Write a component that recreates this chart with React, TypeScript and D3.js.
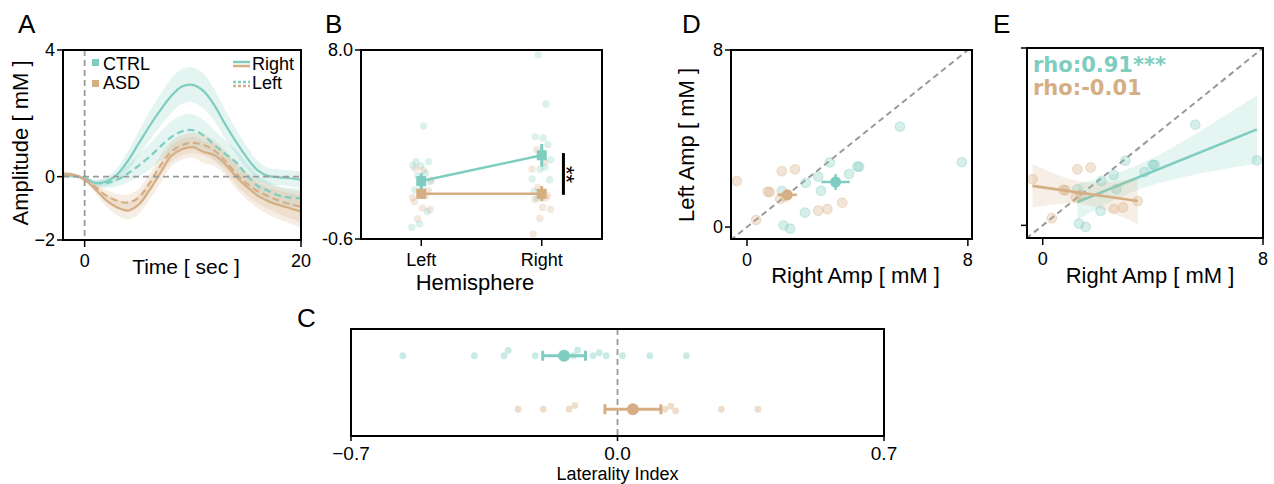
import React from 'react';
import * as d3 from 'd3';

const CTRL = '#7ECDC0';
const ASD = '#D6AE84';
const FONT = 'Liberation Sans, Arial, Helvetica, sans-serif';
const BOLDFONT = 'DejaVu Sans, Liberation Sans, Arial, sans-serif';

// Panel A: group-average time courses
const timeSec = [-2, -1, 0, 1, 2, 3, 4, 5, 6, 7, 8, 9, 10, 11, 12, 13, 14, 15, 16, 17, 18, 19, 20];
const ctrlRightMean = [0.05, 0.03, -0.05, -0.2, -0.15, 0.07, 0.5, 1.05, 1.6, 2.1, 2.55, 2.85, 2.9, 2.7, 2.25, 1.65, 1.1, 0.6, 0.2, 0.02, -0.02, -0.05, -0.1];
const ctrlRightSem = [0.08, 0.06, 0.05, 0.1, 0.15, 0.2, 0.3, 0.38, 0.45, 0.5, 0.55, 0.55, 0.55, 0.55, 0.5, 0.45, 0.4, 0.35, 0.3, 0.25, 0.25, 0.25, 0.25];
const ctrlLeftMean = [0.05, 0.03, -0.05, -0.2, -0.2, -0.1, 0.1, 0.35, 0.63, 0.95, 1.25, 1.43, 1.47, 1.3, 1.0, 0.72, 0.45, 0.05, -0.3, -0.45, -0.6, -0.66, -0.68];
const ctrlLeftSem = [0.08, 0.06, 0.05, 0.1, 0.15, 0.2, 0.28, 0.35, 0.4, 0.45, 0.5, 0.5, 0.5, 0.48, 0.45, 0.42, 0.4, 0.38, 0.35, 0.3, 0.3, 0.3, 0.3];
const asdRightMean = [0.08, 0.05, -0.1, -0.4, -0.75, -0.97, -1.07, -0.88, -0.42, 0.12, 0.65, 0.87, 0.93, 0.78, 0.68, 0.4, 0.0, -0.32, -0.6, -0.78, -0.9, -1.0, -1.1];
const asdRightSem = [0.08, 0.06, 0.05, 0.12, 0.2, 0.25, 0.28, 0.3, 0.32, 0.33, 0.33, 0.33, 0.33, 0.35, 0.35, 0.35, 0.38, 0.4, 0.4, 0.42, 0.45, 0.48, 0.5];
const asdLeftMean = [0.08, 0.05, -0.08, -0.32, -0.6, -0.76, -0.82, -0.66, -0.21, 0.35, 0.78, 1.0, 1.07, 1.0, 0.82, 0.5, 0.1, -0.22, -0.46, -0.62, -0.76, -0.87, -0.95];
const asdLeftSem = [0.08, 0.06, 0.05, 0.12, 0.18, 0.22, 0.25, 0.28, 0.3, 0.32, 0.32, 0.32, 0.32, 0.33, 0.33, 0.33, 0.35, 0.36, 0.38, 0.4, 0.42, 0.45, 0.48];

// Panels B, D, E: per-subject amplitudes [mM]
const ctrlRightAmp = [5.54, 7.78, 3.0, 4.0, 4.06, 3.7, 2.58, 2.13, 2.68, 1.26, 2.1, 1.32, 1.56];
const ctrlLeftAmp = [4.54, 2.93, 2.92, 2.73, 2.73, 2.4, 2.28, 2.0, 1.64, 1.63, 0.65, 0.08, -0.07];
const asdRightAmp = [-0.37, 1.26, 1.74, 0.75, 0.83, 1.2, 1.38, 0.33, 2.58, 2.91, 3.45];
const asdLeftAmp = [2.08, 2.53, 2.61, 1.6, 1.58, 1.28, 1.37, 0.32, 0.74, 0.81, 1.1];

// Panel C: laterality index
const ctrlLI = [-0.564, -0.376, -0.298, -0.287, -0.216, -0.115, -0.105, -0.064, -0.048, -0.03, 0.013, 0.085, 0.181];
const asdLI = [-0.261, -0.195, -0.127, -0.112, 0.124, 0.14, 0.153, 0.273, 0.369];

const hemiLabels = ['Left', 'Right'];
const rhoLabels = ['rho:0.91***', 'rho:-0.01'];

const mean = (a: number[]) => d3.mean(a) as number;
const sem = (a: number[]) => (d3.deviation(a) as number) / Math.sqrt(a.length);

function Frame({ x0, x1, y0, y1 }: any) {
  return <rect x={x0} y={y0} width={x1 - x0} height={y1 - y0} fill="none" stroke="#000" strokeWidth={2} />;
}

function XTicks({ scale, ticks, labels, y, len = 7, lab = 27, size = 18 }: any) {
  return (
    <g>
      {ticks.map((t: number, i: number) => (
        <g key={i}>
          <line x1={scale(t)} x2={scale(t)} y1={y} y2={y + len} stroke="#000" strokeWidth={1.5} />
          {labels && (
            <text x={scale(t)} y={y + lab} textAnchor="middle" fontSize={size} fontFamily={FONT}>
              {labels[i]}
            </text>
          )}
        </g>
      ))}
    </g>
  );
}

function YTicks({ scale, ticks, labels, x, len = 6, size = 18 }: any) {
  return (
    <g>
      {ticks.map((t: number, i: number) => (
        <g key={i}>
          <line x1={x - len} x2={x} y1={scale(t)} y2={scale(t)} stroke="#000" strokeWidth={1.5} />
          {labels && (
            <text x={x - 8} y={scale(t)} dy="0.35em" textAnchor="end" fontSize={size} fontFamily={FONT}>
              {labels[i]}
            </text>
          )}
        </g>
      ))}
    </g>
  );
}

function swarm(xs: number[], d: number) {
  const placed: { x: number; dy: number }[] = [];
  const sorted = [...xs].sort((a, b) => a - b);
  for (const x of sorted) {
    const near = placed.filter((p) => Math.abs(p.x - x) < d);
    const cands = [0];
    for (const p of near) {
      const h = Math.sqrt(d * d - (p.x - x) ** 2);
      cands.push(p.dy - h, p.dy + h);
    }
    cands.sort((a, b) => Math.abs(a) - Math.abs(b) || a - b);
    const ok = cands.find((c) => near.every((p) => (p.x - x) ** 2 + (p.dy - c) ** 2 >= d * d - 1e-6));
    placed.push({ x, dy: ok ?? 0 });
  }
  return placed;
}

function regression(xs: number[], ys: number[]) {
  const n = xs.length;
  const mx = mean(xs);
  const my = mean(ys);
  const sxx = d3.sum(xs, (x) => (x - mx) ** 2);
  const sxy = d3.sum(xs, (x, i) => (x - mx) * (ys[i] - my));
  const b = sxy / sxx;
  const a = my - b * mx;
  const ssr = d3.sum(xs, (x, i) => (ys[i] - (a + b * x)) ** 2);
  const s = Math.sqrt(ssr / (n - 2));
  const t = n - 2 === 11 ? 2.201 : n - 2 === 9 ? 2.262 : 2.2;
  const lo = d3.min(xs) as number;
  const hi = d3.max(xs) as number;
  const grid = d3.range(0, 41).map((k) => lo + ((hi - lo) * k) / 40);
  return grid.map((x) => {
    const yh = a + b * x;
    const se = s * Math.sqrt(1 / n + (x - mx) ** 2 / sxx);
    return { x, y: yh, lo: yh - t * se, hi: yh + t * se };
  });
}

export default function App() {
  // ---------- Panel A ----------
  const A = { x0: 63, x1: 301, y0: 50, y1: 240 };
  const ax = d3.scaleLinear().domain([-2, 20]).range([A.x0, A.x1]);
  const ay = d3.scaleLinear().domain([-2, 4]).range([A.y1, A.y0]);
  const line = (m: number[]) =>
    d3.line<number>().x((_, i) => ax(timeSec[i])).y((v) => ay(v)).curve(d3.curveCatmullRom)(m) as string;
  const band = (m: number[], s: number[]) =>
    d3
      .area<number>()
      .x((_, i) => ax(timeSec[i]))
      .y0((v, i) => ay(v - s[i]))
      .y1((v, i) => ay(v + s[i]))
      .curve(d3.curveCatmullRom)(m) as string;
  const seriesA = [
    { m: ctrlRightMean, s: ctrlRightSem, c: CTRL, dash: undefined },
    { m: ctrlLeftMean, s: ctrlLeftSem, c: CTRL, dash: '7 4' },
    { m: asdRightMean, s: asdRightSem, c: ASD, dash: undefined },
    { m: asdLeftMean, s: asdLeftSem, c: ASD, dash: '7 4' },
  ];

  // ---------- Panel B ----------
  const B = { x0: 361, x1: 602, y0: 50, y1: 239 };
  const bx = d3.scaleLinear().domain([-0.5, 1.5]).range([B.x0, B.x1]);
  const by = d3.scaleLinear().domain([-0.6, 8.0]).range([B.y1, B.y0]);
  const jit = (i: number, k: number) => ((((i + 1) * 0.6180339 + k * 0.37) % 1) - 0.5) * 0.17;
  const groupsB = [
    { c: CTRL, left: ctrlLeftAmp, right: ctrlRightAmp, k: 0 },
    { c: ASD, left: asdLeftAmp, right: asdRightAmp, k: 1 },
  ];

  // ---------- Panel C ----------
  const C = { x0: 351, x1: 884, y0: 329, y1: 436 };
  const cx = d3.scaleLinear().domain([-0.7, 0.7]).range([C.x0, C.x1]);
  const cy = d3.scaleLinear().domain([-0.5, 1.5]).range([C.y0, C.y1]);
  const groupsC = [
    { c: CTRL, v: ctrlLI, row: 0 },
    { c: ASD, v: asdLI, row: 1 },
  ];

  // ---------- Panel D ----------
  const D = { x0: 731, x1: 972, y0: 50, y1: 239 };
  const dx = d3.scaleLinear().domain([-0.58, 8.15]).range([D.x0, D.x1]);
  const dy = d3.scaleLinear().domain([-0.54, 8.0]).range([D.y1, D.y0]);

  // ---------- Panel E ----------
  const E = { x0: 1027, x1: 1263, y0: 48, y1: 238 };
  const ex = d3.scaleLinear().domain([-0.57, 8.0]).range([E.x0, E.x1]);
  const ey = d3.scaleLinear().domain([-0.57, 8.0]).range([E.y1, E.y0]);

  const scatterGroups = [
    { c: CTRL, xs: ctrlRightAmp, ys: ctrlLeftAmp },
    { c: ASD, xs: asdRightAmp, ys: asdLeftAmp },
  ];

  const letter = (t: string, x: number, y: number) => (
    <text x={x} y={y} fontSize={26} fontFamily={FONT}>
      {t}
    </text>
  );

  return (
    <svg width={1274} height={484} style={{ position: 'absolute', left: 0, top: 0, background: '#fff' }}>
      <defs>
        <clipPath id="clipA">
          <rect x={A.x0} y={A.y0} width={A.x1 - A.x0} height={A.y1 - A.y0} />
        </clipPath>
        <clipPath id="clipD">
          <rect x={D.x0} y={D.y0} width={D.x1 - D.x0} height={D.y1 - D.y0} />
        </clipPath>
        <clipPath id="clipE">
          <rect x={E.x0} y={E.y0} width={E.x1 - E.x0} height={E.y1 - E.y0} />
        </clipPath>
      </defs>
      <rect x={0} y={0} width={1274} height={484} fill="#fff" />

      {/* ================= A ================= */}
      {letter('A', 18, 33)}
      <g clipPath="url(#clipA)">
        {seriesA.map((s, i) => (
          <path key={'b' + i} d={band(s.m, s.s)} fill={s.c} fillOpacity={0.22} stroke="none" />
        ))}
        {seriesA.map((s, i) => (
          <path key={'l' + i} d={line(s.m)} fill="none" stroke={s.c} strokeWidth={2.2} strokeDasharray={s.dash} />
        ))}
        <line x1={ax(0)} x2={ax(0)} y1={A.y0} y2={A.y1} stroke="#9a9a9a" strokeWidth={1.8} strokeDasharray="6 4" />
        <line x1={A.x0} x2={A.x1} y1={ay(0)} y2={ay(0)} stroke="#9a9a9a" strokeWidth={1.8} strokeDasharray="6 4" />
      </g>
      <Frame {...A} />
      <XTicks scale={ax} ticks={[0, 20]} labels={['0', '20']} y={A.y1} />
      <YTicks scale={ay} ticks={[-2, 0, 4]} labels={['\u22122', '0', '4']} x={A.x0} />
      <text x={(A.x0 + A.x1) / 2 + 4} y={274} textAnchor="middle" fontSize={21} fontFamily={FONT}>
        Time [ sec ]
      </text>
      <text transform={`translate(28,${(A.y0 + A.y1) / 2 - 2}) rotate(-90)`} textAnchor="middle" fontSize={22} fontFamily={FONT}>
        Amplitude [ mM ]
      </text>
      {/* legend */}
      <rect x={92} y={59} width={7} height={7} fill={CTRL} />
      <text x={103} y={70} fontSize={18} fontFamily={FONT}>CTRL</text>
      <rect x={92} y={80} width={7} height={7} fill={ASD} />
      <text x={103} y={89} fontSize={18} fontFamily={FONT}>ASD</text>
      <line x1={233} x2={250} y1={62} y2={62} stroke={CTRL} strokeWidth={2.5} />
      <line x1={233} x2={250} y1={66} y2={66} stroke={ASD} strokeWidth={2.5} />
      <text x={252} y={70} fontSize={18} fontFamily={FONT}>Right</text>
      <line x1={233} x2={250} y1={82} y2={82} stroke={CTRL} strokeWidth={2.5} strokeDasharray="3 2" />
      <line x1={233} x2={250} y1={86} y2={86} stroke={ASD} strokeWidth={2.5} strokeDasharray="3 2" />
      <text x={252} y={89} fontSize={18} fontFamily={FONT}>Left</text>

      {/* ================= B ================= */}
      {letter('B', 325, 33)}
      {groupsB.map((g) => (
        <g key={'bp' + g.k}>
          {g.left.map((v, i) => (
            <circle key={'l' + i} cx={bx(0 + jit(i, g.k))} cy={by(v)} r={3.7} fill={g.c} fillOpacity={0.28} />
          ))}
          {g.right.map((v, i) => (
            <circle key={'r' + i} cx={bx(1 + jit(i + 5, g.k))} cy={by(v)} r={3.7} fill={g.c} fillOpacity={0.28} />
          ))}
        </g>
      ))}
      {groupsB.map((g) => {
        const ml = mean(g.left);
        const mr = mean(g.right);
        const sl = sem(g.left);
        const sr = sem(g.right);
        return (
          <g key={'bm' + g.k}>
            <line x1={bx(0)} x2={bx(1)} y1={by(ml)} y2={by(mr)} stroke={g.c} strokeWidth={2.5} />
            <line x1={bx(0)} x2={bx(0)} y1={by(ml - sl)} y2={by(ml + sl)} stroke={g.c} strokeWidth={3} />
            <line x1={bx(1)} x2={bx(1)} y1={by(mr - sr)} y2={by(mr + sr)} stroke={g.c} strokeWidth={3} />
            <rect x={bx(0) - 5} y={by(ml) - 5} width={10} height={10} fill={g.c} />
            <rect x={bx(1) - 5} y={by(mr) - 5} width={10} height={10} fill={g.c} />
          </g>
        );
      })}
      <line x1={bx(1.18)} x2={bx(1.18)} y1={by(mean(ctrlRightAmp) + 0.1)} y2={by(mean(asdRightAmp) - 0.05)} stroke="#000" strokeWidth={3} />
      <text transform={`translate(559,${(by(mean(ctrlRightAmp)) + by(mean(asdRightAmp))) / 2}) rotate(90)`} textAnchor="middle" fontSize={22} fontFamily={FONT}>
        **
      </text>
      <Frame {...B} />
      <XTicks scale={bx} ticks={[0, 1]} labels={hemiLabels} y={B.y1} />
      <YTicks scale={by} ticks={[-0.6, 8.0]} labels={['-0.6', '8.0']} x={B.x0} />
      <text x={475} y={290} textAnchor="middle" fontSize={22} fontFamily={FONT}>
        Hemisphere
      </text>

      {/* ================= C ================= */}
      {letter('C', 297, 327)}
      <line x1={cx(0)} x2={cx(0)} y1={C.y0} y2={C.y1} stroke="#9a9a9a" strokeWidth={1.8} strokeDasharray="6 4" />
      {groupsC.map((g) => {
        const pts = swarm(g.v.map((v) => cx(v)), 6.8);
        const m = mean(g.v);
        const s = sem(g.v);
        const yy = cy(g.row);
        return (
          <g key={'c' + g.row}>
            {pts.map((p, i) => (
              <circle key={i} cx={p.x} cy={yy + p.dy} r={3.4} fill={g.c} fillOpacity={0.42} />
            ))}
            <line x1={cx(m - s)} x2={cx(m + s)} y1={yy} y2={yy} stroke={g.c} strokeWidth={3} />
            <line x1={cx(m - s)} x2={cx(m - s)} y1={yy - 5} y2={yy + 5} stroke={g.c} strokeWidth={3} />
            <line x1={cx(m + s)} x2={cx(m + s)} y1={yy - 5} y2={yy + 5} stroke={g.c} strokeWidth={3} />
            <circle cx={cx(m)} cy={yy} r={6} fill={g.c} />
          </g>
        );
      })}
      <Frame {...C} />
      <XTicks scale={cx} ticks={[-0.7, 0, 0.7]} labels={['\u22120.7', '0.0', '0.7']} y={C.y1} len={5} lab={24} size={19} />
      <text x={cx(0)} y={480} textAnchor="middle" fontSize={18} fontFamily={FONT}>
        Laterality Index
      </text>

      {/* ================= D ================= */}
      {letter('D', 682, 33)}
      <g clipPath="url(#clipD)">
        <line x1={dx(-0.6)} y1={dy(-0.6)} x2={dx(8.2)} y2={dy(8.2)} stroke="#999" strokeWidth={2} strokeDasharray="6 4" />
        {scatterGroups.map((g, k) =>
          g.xs.map((x, i) => (
            <circle key={k + '-' + i} cx={dx(x)} cy={dy(g.ys[i])} r={4.8} fill={g.c} fillOpacity={0.32} stroke={g.c} strokeOpacity={0.35} strokeWidth={1.2} />
          ))
        )}
        {scatterGroups.map((g, k) => {
          const mx = mean(g.xs);
          const my = mean(g.ys);
          const sx = sem(g.xs);
          const sy = sem(g.ys);
          return (
            <g key={'dm' + k}>
              <line x1={dx(mx - sx)} x2={dx(mx + sx)} y1={dy(my)} y2={dy(my)} stroke={g.c} strokeWidth={2.5} />
              <line x1={dx(mx)} x2={dx(mx)} y1={dy(my - sy)} y2={dy(my + sy)} stroke={g.c} strokeWidth={2.5} />
              <circle cx={dx(mx)} cy={dy(my)} r={5.5} fill={g.c} />
            </g>
          );
        })}
      </g>
      <Frame {...D} />
      <XTicks scale={dx} ticks={[0, 8]} labels={['0', '8']} y={D.y1} />
      <YTicks scale={dy} ticks={[0, 8]} labels={['0', '8']} x={D.x0} />
      <text x={(D.x0 + D.x1) / 2 + 4} y={283} textAnchor="middle" fontSize={22} fontFamily={FONT}>
        Right Amp [ mM ]
      </text>
      <text transform={`translate(694,145) rotate(-90)`} textAnchor="middle" fontSize={22} fontFamily={FONT}>
        Left Amp [ mM ]
      </text>

      {/* ================= E ================= */}
      {letter('E', 993, 33)}
      <g clipPath="url(#clipE)">
        <line x1={ex(-0.6)} y1={ey(-0.6)} x2={ex(8.2)} y2={ey(8.2)} stroke="#999" strokeWidth={2} strokeDasharray="6 4" />
        {scatterGroups.map((g, k) =>
          g.xs.map((x, i) => (
            <circle key={k + '-' + i} cx={ex(x)} cy={ey(g.ys[i])} r={4.8} fill={g.c} fillOpacity={0.32} stroke={g.c} strokeOpacity={0.35} strokeWidth={1.2} />
          ))
        )}
        {scatterGroups.map((g, k) => {
          const pts = regression(g.xs, g.ys);
          const area = d3
            .area<any>()
            .x((p) => ex(p.x))
            .y0((p) => ey(p.lo))
            .y1((p) => ey(p.hi))(pts) as string;
          return (
            <g key={'reg' + k}>
              <path d={area} fill={g.c} fillOpacity={0.2} />
              <line x1={ex(pts[0].x)} y1={ey(pts[0].y)} x2={ex(pts[pts.length - 1].x)} y2={ey(pts[pts.length - 1].y)} stroke={g.c} strokeWidth={2.6} />
            </g>
          );
        })}
      </g>
      <text x={1033} y={72} fontSize={21} fontWeight="bold" fontFamily={BOLDFONT} fill={CTRL}>
        {rhoLabels[0]}
      </text>
      <text x={1033} y={95} fontSize={21} fontWeight="bold" fontFamily={BOLDFONT} fill={ASD}>
        {rhoLabels[1]}
      </text>
      <Frame {...E} />
      <XTicks scale={ex} ticks={[0, 8]} labels={['0', '8']} y={E.y1} />
      <YTicks scale={ey} ticks={[0, 8]} x={E.x0} />
      <text x={1150} y={283} textAnchor="middle" fontSize={22} fontFamily={FONT}>
        Right Amp [ mM ]
      </text>
    </svg>
  );
}
